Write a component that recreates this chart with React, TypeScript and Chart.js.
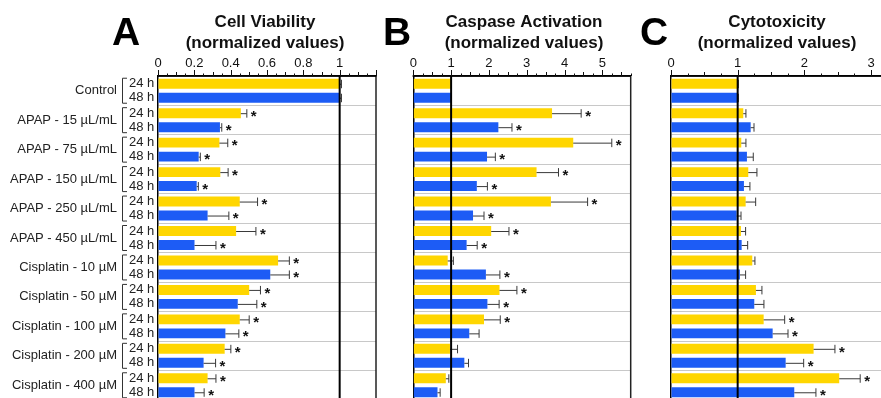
import React, { useEffect, useRef } from "react";
import { Chart, registerables } from "chart.js";

Chart.register(...registerables);

// ---------- DATA ----------
const groups = [
  "Control",
  "APAP - 15 µL/mL",
  "APAP - 75 µL/mL",
  "APAP - 150 µL/mL",
  "APAP - 250 µL/mL",
  "APAP - 450 µL/mL",
  "Cisplatin - 10 µM",
  "Cisplatin - 50 µM",
  "Cisplatin - 100 µM",
  "Cisplatin - 200 µM",
  "Cisplatin - 400 µM",
];
const timeLabels = ["24 h", "48 h"];

// Panel A: Cell Viability
const viability24 = [1.0, 0.456, 0.338, 0.343, 0.45, 0.43, 0.661, 0.502, 0.45, 0.367, 0.273];
const viability24Err = [0.01, 0.033, 0.046, 0.043, 0.098, 0.109, 0.062, 0.062, 0.052, 0.034, 0.046];
const viability24Sig = [false, true, true, true, true, true, true, true, true, true, true];
const viability48 = [1.0, 0.341, 0.224, 0.213, 0.273, 0.201, 0.618, 0.439, 0.371, 0.251, 0.201];
const viability48Err = [0.01, 0.01, 0.009, 0.009, 0.117, 0.118, 0.105, 0.105, 0.074, 0.066, 0.053];
const viability48Sig = [false, true, true, true, true, true, true, true, true, true, true];

// Panel B: Caspase Activation
const caspase24 = [1.0, 3.67, 4.23, 3.26, 3.64, 2.06, 0.91, 2.28, 1.87, 0.97, 0.86];
const caspase24Err = [0.01, 0.77, 1.02, 0.58, 0.97, 0.47, 0.15, 0.46, 0.43, 0.2, 0.08];
const caspase24Sig = [false, true, true, true, true, true, false, true, true, false, false];
const caspase48 = [1.0, 2.25, 1.95, 1.68, 1.58, 1.41, 1.92, 1.96, 1.48, 1.35, 0.64];
const caspase48Err = [0.01, 0.36, 0.22, 0.28, 0.29, 0.28, 0.37, 0.31, 0.26, 0.11, 0.07];
const caspase48Sig = [false, true, true, true, true, true, true, true, false, false, false];

// Panel C: Cytotoxicity
const cyto24 = [1.0, 1.084, 1.054, 1.159, 1.12, 1.049, 1.219, 1.274, 1.39, 2.139, 2.523];
const cyto24Err = [0.01, 0.04, 0.07, 0.13, 0.15, 0.07, 0.04, 0.09, 0.315, 0.32, 0.315];
const cyto24Sig = [false, false, false, false, false, false, false, false, true, true, true];
const cyto48 = [1.0, 1.195, 1.139, 1.094, 0.985, 1.06, 1.034, 1.249, 1.525, 1.72, 1.849];
const cyto48Err = [0.01, 0.05, 0.095, 0.09, 0.065, 0.09, 0.085, 0.145, 0.23, 0.27, 0.325];
const cyto48Sig = [false, false, false, false, false, false, false, false, true, true, true];

// ---------- STYLE ----------
const FONT = '"Liberation Sans", Arial, Helvetica, sans-serif';
const YELLOW = "#FFD600";
const BLUE = "#1D5CF5";
const GRID = "#c8c8c8";

type Panel = {
  letter: string;
  title1: string;
  title2: string;
  max: number;
  labelStep: number;
  minorStep: number;
  midStep: number;
  maxLabel: number;
  v24: number[];
  e24: number[];
  s24: boolean[];
  v48: number[];
  e48: number[];
  s48: boolean[];
  showLabels: boolean;
  rightBorder: boolean;
  yWidth: number;
  padRight: number;
  canvasLeft: number;
  canvasWidth: number;
  letterX: number;
  titleX: number;
};

const panels: Panel[] = [
  {
    letter: "A", title1: "Cell Viability", title2: "(normalized values)",
    max: 1.2, labelStep: 0.2, minorStep: 0.05, midStep: 0.1, maxLabel: 1,
    v24: viability24, e24: viability24Err, s24: viability24Sig,
    v48: viability48, e48: viability48Err, s48: viability48Sig,
    showLabels: true, rightBorder: true, yWidth: 158, padRight: 4,
    canvasLeft: 0, canvasWidth: 380, letterX: 112, titleX: 265,
  },
  {
    letter: "B", title1: "Caspase Activation", title2: "(normalized values)",
    max: 5.75, labelStep: 1, minorStep: 0.25, midStep: 0.5, maxLabel: 5,
    v24: caspase24, e24: caspase24Err, s24: caspase24Sig,
    v48: caspase48, e48: caspase48Err, s48: caspase48Sig,
    showLabels: false, rightBorder: true, yWidth: 33.3, padRight: 4.3,
    canvasLeft: 380, canvasWidth: 255, letterX: 3, titleX: 144,
  },
  {
    letter: "C", title1: "Cytotoxicity", title2: "(normalized values)",
    max: 3.15, labelStep: 1, minorStep: 0.25, midStep: 0.5, maxLabel: 3,
    v24: cyto24, e24: cyto24Err, s24: cyto24Sig,
    v48: cyto48, e48: cyto48Err, s48: cyto48Sig,
    showLabels: false, rightBorder: false, yWidth: 36, padRight: 0,
    canvasLeft: 635, canvasWidth: 246, letterX: 5, titleX: 142,
  },
];

function near(a: number, b: number) {
  return Math.abs(a - b) < 1e-6;
}

function makeDecor(p: Panel) {
  return {
    id: "panelDecor" + p.letter,
    afterDatasetsDraw(chart: any) {
      const { ctx, chartArea: ca } = chart;
      const xs = chart.scales.x;
      ctx.save();
      // error bars and significance marks
      const sets = [
        { v: p.v24, e: p.e24, s: p.s24 },
        { v: p.v48, e: p.e48, s: p.s48 },
      ];
      sets.forEach((set, di) => {
        const meta = chart.getDatasetMeta(di);
        meta.data.forEach((bar: any, i: number) => {
          const y = bar.y;
          const x0 = xs.getPixelForValue(set.v[i]);
          const x1 = xs.getPixelForValue(set.v[i] + set.e[i]);
          ctx.strokeStyle = "#3a3a3a";
          ctx.lineWidth = 1;
          ctx.beginPath();
          ctx.moveTo(x0, y + 0.5);
          ctx.lineTo(x1, y + 0.5);
          ctx.moveTo(x1, y - 4);
          ctx.lineTo(x1, y + 4.5);
          ctx.stroke();
          if (set.s[i]) {
            ctx.fillStyle = "#111";
            ctx.font = `bold 15px ${FONT}`;
            ctx.textAlign = "left";
            ctx.textBaseline = "alphabetic";
            ctx.fillText("*", x1 + 4, y + 0.52 * 15);
          }
        });
      });
      // reference line at 1
      const xOne = xs.getPixelForValue(1);
      ctx.strokeStyle = "#000";
      ctx.lineWidth = 2;
      ctx.beginPath();
      ctx.moveTo(xOne, ca.top);
      ctx.lineTo(xOne, ca.bottom + 5);
      ctx.stroke();
      // right border
      if (p.rightBorder) {
        ctx.lineWidth = 1.5;
        ctx.strokeStyle = "#222";
        ctx.beginPath();
        ctx.moveTo(ca.right, ca.top);
        ctx.lineTo(ca.right, ca.bottom + 5);
        ctx.stroke();
      }
      // top axis line
      ctx.lineWidth = 1.5;
      ctx.strokeStyle = "#000";
      ctx.beginPath();
      ctx.moveTo(ca.left - 0.75, ca.top);
      ctx.lineTo(ca.right, ca.top);
      ctx.stroke();
      // tick marks
      const n = Math.floor(p.max / p.minorStep + 1e-6);
      ctx.lineWidth = 1;
      ctx.strokeStyle = "#111";
      for (let k = 0; k <= n; k++) {
        const v = k * p.minorStep;
        const px = xs.getPixelForValue(v);
        const r1 = v / p.labelStep;
        const r2 = v / p.midStep;
        let len = 2.5;
        if (near(r1, Math.round(r1))) len = 6;
        else if (near(r2, Math.round(r2))) len = 4;
        ctx.beginPath();
        ctx.moveTo(Math.round(px) + 0.5, ca.top);
        ctx.lineTo(Math.round(px) + 0.5, ca.top - len);
        ctx.stroke();
      }
      // titles
      ctx.fillStyle = "#111";
      ctx.textAlign = "center";
      ctx.textBaseline = "alphabetic";
      ctx.font = `bold 17px ${FONT}`;
      ctx.fillText(p.title1, p.titleX, 27);
      ctx.fillText(p.title2, p.titleX, 48);
      // panel letter
      ctx.textAlign = "left";
      ctx.font = `bold 39px ${FONT}`;
      ctx.fillStyle = "#000";
      ctx.fillText(p.letter, p.letterX, 44.5);
      // time labels and brackets
      if (p.showLabels) {
        const m0 = chart.getDatasetMeta(0).data;
        const m1 = chart.getDatasetMeta(1).data;
        ctx.font = `13px ${FONT}`;
        ctx.fillStyle = "#222";
        ctx.textBaseline = "middle";
        for (let i = 0; i < groups.length; i++) {
          const ya = m0[i].y;
          const yb = m1[i].y;
          ctx.fillText(timeLabels[0], 129, ya);
          ctx.fillText(timeLabels[1], 129, yb);
          const top = ya - 5.5;
          const bot = yb + 5.5;
          ctx.strokeStyle = "#333";
          ctx.lineWidth = 1;
          ctx.beginPath();
          ctx.moveTo(127, top);
          ctx.lineTo(122.5, top);
          ctx.lineTo(122.5, bot);
          ctx.lineTo(127, bot);
          ctx.stroke();
        }
      }
      ctx.restore();
    },
  };
}

function PanelChart({ p }: { p: Panel }) {
  const ref = useRef<HTMLCanvasElement | null>(null);
  useEffect(() => {
    if (!ref.current) return;
    const chart = new Chart(ref.current, {
      type: "bar",
      data: {
        labels: groups,
        datasets: [
          { label: timeLabels[0], data: p.v24, backgroundColor: YELLOW, borderWidth: 0, categoryPercentage: 0.95, barPercentage: 0.71 },
          { label: timeLabels[1], data: p.v48, backgroundColor: BLUE, borderWidth: 0, categoryPercentage: 0.95, barPercentage: 0.71 },
        ],
      },
      options: {
        indexAxis: "y",
        responsive: false,
        animation: false,
        devicePixelRatio: 1,
        layout: { padding: { top: 0, right: p.padRight, bottom: 0, left: 0 } },
        plugins: { legend: { display: false }, tooltip: { enabled: false }, title: { display: false } },
        scales: {
          x: {
            type: "linear",
            position: "top",
            min: 0,
            max: p.max,
            grid: { display: true, drawOnChartArea: false, drawTicks: false },
            border: { display: true, color: "#000", width: 1.5 },
            ticks: {
              stepSize: p.labelStep,
              includeBounds: false,
              autoSkip: false,
              maxRotation: 0,
              padding: 5,
              color: "#111",
              font: { family: FONT, size: 13 },
              callback: (v: any) => {
                const num = Number(v);
                if (num > p.maxLabel + 1e-6) return "";
                const r = num / p.labelStep;
                if (!near(r, Math.round(r))) return "";
                return String(Math.round(num * 100) / 100);
              },
            },
            afterFit: (s: any) => {
              s.height = 76;
              s.paddingLeft = 0;
              s.paddingRight = 0;
            },
          },
          y: {
            type: "category",
            offset: true,
            grid: { display: true, offset: true, color: GRID, lineWidth: 1, drawTicks: false },
            border: { display: true, color: "#000", width: 1.5 },
            ticks: {
              display: p.showLabels,
              padding: 41,
              color: "#222",
              font: { family: FONT, size: 13 },
            },
            afterFit: (s: any) => {
              s.width = p.yWidth;
              s.paddingTop = 0;
              s.paddingBottom = 0;
            },
          },
        },
      },
      plugins: [makeDecor(p)],
    } as any);
    return () => chart.destroy();
  }, [p]);
  return (
    <canvas
      ref={ref}
      width={p.canvasWidth}
      height={400}
      style={{ position: "absolute", left: p.canvasLeft, top: 0, width: p.canvasWidth, height: 400 }}
    />
  );
}

export default function App() {
  return (
    <div
      style={{
        position: "fixed",
        left: 0,
        top: 0,
        width: 881,
        height: 398,
        overflow: "hidden",
        background: "#fff",
      }}
    >
      {panels.map((p) => (
        <PanelChart key={p.letter} p={p} />
      ))}
    </div>
  );
}
